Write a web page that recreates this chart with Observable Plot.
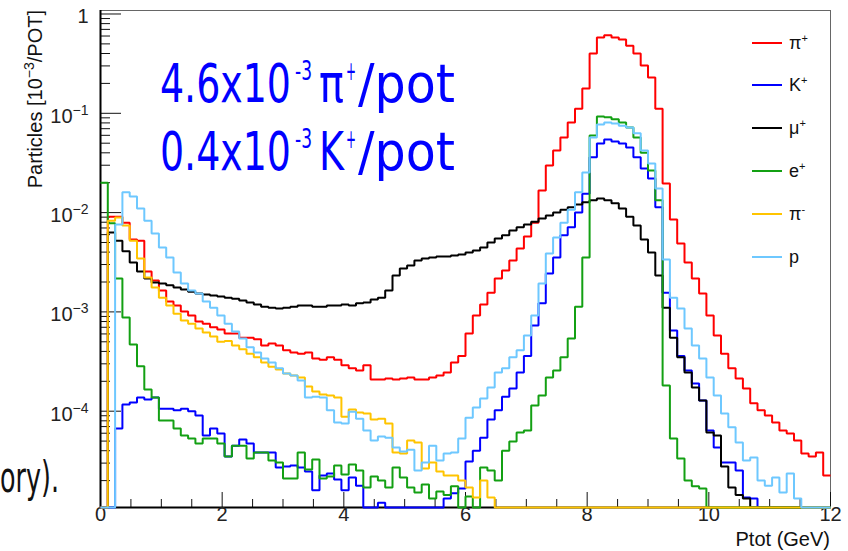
<!DOCTYPE html>
<html><head><meta charset="utf-8">
<script src="https://cdn.jsdelivr.net/npm/d3@7"></script>
<script src="https://cdn.jsdelivr.net/npm/@observablehq/plot@0.6"></script>
<style>
html,body{margin:0;padding:0;background:#fff;}
#chart{position:relative;width:848px;height:551px;overflow:hidden;background:#fff;}
</style></head><body><div id="chart"></div>
<script>
// ---------------- data ----------------
const binWidth = 0.12; // GeV, 100 bins from 0 to 12
const species = ["π+", "K+", "μ+", "e+", "π-", "p"];
const speciesBase = ["π", "K", "μ", "e", "π", "p"];
const speciesCharge = ["+", "+", "+", "+", "-", ""];
const colors = ["#ff0000", "#0000ff", "#000000", "#13a013", "#ffc400", "#6ec8ff"];

const piPlus = [0, 9.1e-3, 9.1e-3, 7.9e-3, 5.35e-3, 5.2e-3, 2.55e-3, 2.07e-3, 1.64e-3, 1.27e-3,
 1.16e-3, 1.01e-3, 9.2e-4, 8.0e-4, 7.6e-4, 7.0e-4, 6.65e-4, 6.05e-4, 6.05e-4, 5.5e-4,
 5.5e-4, 5.3e-4, 4.6e-4, 4.8e-4, 4.6e-4, 4.1e-4, 3.9e-4, 3.8e-4, 3.9e-4, 3.4e-4,
 3.3e-4, 3.5e-4, 3.3e-4, 2.9e-4, 2.7e-4, 2.57e-4, 2.9e-4, 2.08e-4, 2.08e-4, 2.13e-4,
 2.08e-4, 2.13e-4, 2.18e-4, 2.08e-4, 2.08e-4, 2.18e-4, 2.29e-4, 2.45e-4, 3.1e-4, 3.6e-4,
 6.05e-4, 9.2e-4, 1.19e-3, 1.56e-3, 2.17e-3, 2.61e-3, 3.29e-3, 4.35e-3, 5.74e-3, 7.9e-3,
 1.67e-2, 2.98e-2, 4.22e-2, 5.7e-2, 8.1e-2, 0.111, 0.178, 0.40, 0.58, 0.61,
 0.58, 0.553, 0.48, 0.40, 0.303, 0.229, 0.111, 1.96e-2, 8.5e-3, 4.88e-3,
 3.14e-3, 2.17e-3, 1.53e-3, 9.2e-4, 5.8e-4, 3.8e-4, 2.7e-4, 2.13e-4, 1.69e-4, 1.2e-4,
 1.02e-4, 9.05e-5, 7.7e-5, 6.4e-5, 5.95e-5, 5.07e-5, 3.75e-5, 3.5e-5, 3.84e-5, 2.25e-5];

const kPlus = [0, 0, 6.7e-5, 1.17e-4, 1.22e-4, 1.37e-4, 1.31e-4, 1.37e-4, 1.06e-4, 1.06e-4,
 1.02e-4, 1.06e-4, 1.0e-4, 9.05e-5, 5.7e-5, 6.7e-5, 5.95e-5, 3.5e-5, 4.5e-5, 5.2e-5,
 4.73e-5, 3.84e-5, 3.84e-5, 3.84e-5, 2.71e-5, 2.77e-5, 2.84e-5, 2.71e-5, 2.47e-5, 1.6e-5,
 2.25e-5, 2.36e-5, 2.05e-5, 1.6e-5, 2.15e-5, 1.78e-5, 0, 0, 1.2e-5, 0,
 0, 0, 0, 0, 0, 0, 0, 1.32e-5, 1.49e-5, 1.67e-5,
 3.12e-5, 4.0e-5, 5.4e-5, 8.25e-5, 1.02e-4, 1.4e-4, 1.69e-4, 2.45e-4, 3.6e-4, 7.3e-4,
 1.22e-3, 2.44e-3, 3.53e-3, 5.9e-3, 7.1e-3, 1.0e-2, 1.55e-2, 3.6e-2, 4.97e-2, 5.45e-2,
 5.2e-2, 4.97e-2, 4.53e-2, 3.6e-2, 2.78e-2, 2.2e-2, 1.13e-2, 1.56e-3, 6.5e-4, 3.6e-4,
 2.57e-4, 1.9e-4, 1.28e-4, 6.4e-5, 4.3e-5, 3.04e-5, 3.04e-5, 2.53e-5, 1.35e-5, 1.32e-5,
 0, 0, 0, 0, 0, 0, 0, 0, 0, 0];

const muPlus = [0, 6.3e-3, 5.2e-3, 4.07e-3, 3.14e-3, 2.55e-3, 2.17e-3, 1.98e-3, 1.93e-3, 1.85e-3,
 1.76e-3, 1.68e-3, 1.6e-3, 1.53e-3, 1.5e-3, 1.46e-3, 1.43e-3, 1.39e-3, 1.36e-3, 1.3e-3,
 1.24e-3, 1.19e-3, 1.13e-3, 1.1e-3, 1.08e-3, 1.1e-3, 1.13e-3, 1.16e-3, 1.16e-3, 1.13e-3,
 1.13e-3, 1.16e-3, 1.16e-3, 1.19e-3, 1.16e-3, 1.22e-3, 1.24e-3, 1.33e-3, 1.39e-3, 1.64e-3,
 2.33e-3, 2.73e-3, 2.93e-3, 3.29e-3, 3.45e-3, 3.53e-3, 3.61e-3, 3.61e-3, 3.7e-3, 3.78e-3,
 3.97e-3, 4.15e-3, 4.45e-3, 5.0e-3, 5.49e-3, 5.9e-3, 6.6e-3, 7.1e-3, 7.6e-3, 8.1e-3,
 8.7e-3, 9.35e-3, 1.0e-2, 1.07e-2, 1.13e-2, 1.21e-2, 1.27e-2, 1.33e-2, 1.39e-2, 1.33e-2,
 1.24e-2, 1.1e-2, 9.1e-3, 7.4e-3, 5.35e-3, 3.97e-3, 2.33e-3, 1.1e-3, 5.5e-4, 3.5e-4,
 2.45e-4, 1.73e-4, 1.28e-4, 6.1e-5, 5.7e-5, 2.77e-5, 1.7e-5, 1.43e-5, 1.32e-5, 0,
 0, 0, 0, 0, 0, 0, 0, 0, 0, 0];

const ePlus = [2.0e-2, 7.8e-3, 2.17e-3, 8.8e-4, 4.7e-4, 2.83e-4, 1.65e-4, 1.37e-4, 8.06e-5, 8.06e-5,
 6.7e-5, 5.7e-5, 5.3e-5, 4.73e-5, 5.3e-5, 5.3e-5, 4.73e-5, 3.5e-5, 4.5e-5, 4.5e-5,
 3.34e-5, 3.84e-5, 3.84e-5, 3.19e-5, 3.04e-5, 2.1e-5, 2.1e-5, 3.84e-5, 2.59e-5, 3.27e-5,
 2.1e-5, 2.2e-5, 2.84e-5, 2.3e-5, 2.9e-5, 2.53e-5, 1.7e-5, 2.2e-5, 2.0e-5, 1.7e-5,
 2.71e-5, 2.15e-5, 1.7e-5, 1.52e-5, 1.83e-5, 1.32e-5, 1.55e-5, 1.43e-5, 1.75e-5, 0,
 1.38e-5, 0, 2.71e-5, 2.53e-5, 2.0e-5, 4.0e-5, 4.95e-5, 6.1e-5, 6.4e-5, 1.14e-4,
 1.44e-4, 2.18e-4, 2.57e-4, 3.5e-4, 5.4e-4, 1.13e-3, 3.53e-3, 5.97e-2, 9.3e-2, 9.1e-2,
 8.7e-2, 8.1e-2, 7.2e-2, 5.7e-2, 4.0e-2, 2.66e-2, 1.33e-2, 1.81e-4, 5.3e-5, 3.34e-5,
 2.0e-5, 1.75e-5, 1.67e-5, 0, 0, 0, 0, 0, 0, 0,
 0, 0, 0, 0, 0, 0, 0, 0, 0, 0];

const piMinus = [0, 8.3e-3, 8.9e-3, 7.4e-3, 5.2e-3, 3.45e-3, 2.22e-3, 1.76e-3, 1.39e-3, 1.16e-3,
 9.6e-4, 8.2e-4, 7.6e-4, 6.8e-4, 6.2e-4, 5.65e-4, 5.0e-4, 5.1e-4, 4.6e-4, 4.2e-4,
 3.8e-4, 3.5e-4, 3.1e-4, 2.8e-4, 2.63e-4, 2.4e-4, 2.29e-4, 2.18e-4, 1.77e-4, 1.58e-4,
 1.47e-4, 1.44e-4, 1.37e-4, 8.8e-5, 1.04e-4, 9.7e-5, 9.5e-5, 8.25e-5, 8.4e-5, 7.5e-5,
 3.84e-5, 3.75e-5, 5.07e-5, 4.84e-5, 2.65e-5, 3.04e-5, 2.47e-5, 2.25e-5, 2.25e-5, 2.0e-5,
 1.7e-5, 1.35e-5, 2.0e-5, 1.35e-5, 0, 0, 0, 0, 0, 0,
 0, 0, 0, 0, 0, 0, 0, 0, 0, 0,
 0, 0, 0, 0, 0, 0, 0, 0, 0, 0,
 0, 0, 0, 0, 0, 0, 0, 0, 0, 0,
 0, 0, 0, 0, 0, 0, 0, 0, 0, 0];

const proton = [0, 0, 7.6e-3, 1.6e-2, 1.45e-2, 1.1e-2, 8.3e-3, 6.15e-3, 4.45e-3, 3.53e-3,
 2.5e-3, 1.93e-3, 1.64e-3, 1.53e-3, 1.27e-3, 1.1e-3, 9.2e-4, 7.6e-4, 6.35e-4, 5.4e-4,
 4.4e-4, 3.9e-4, 3.4e-4, 3.1e-4, 2.7e-4, 2.4e-4, 2.29e-4, 2.04e-4, 1.37e-4, 1.4e-4,
 1.37e-4, 1.02e-4, 7.7e-5, 7.5e-5, 9.9e-5, 8.4e-5, 6.4e-5, 5.07e-5, 5.56e-5, 5.4e-5,
 4.3e-5, 3.93e-5, 4.1e-5, 2.53e-5, 3.04e-5, 4.5e-5, 3.19e-5, 3.75e-5, 3.84e-5, 5.3e-5,
 8.6e-5, 1.09e-4, 1.34e-4, 1.73e-4, 2.45e-4, 2.7e-4, 3.5e-4, 4.1e-4, 5.8e-4, 9.2e-4,
 1.93e-3, 3.87e-3, 5.6e-3, 7.9e-3, 1.07e-2, 1.6e-2, 2.54e-2, 5.7e-2, 7.7e-2, 8.1e-2,
 7.9e-2, 7.5e-2, 7.2e-2, 6.3e-2, 4.22e-2, 3.12e-2, 1.75e-2, 3.37e-3, 1.39e-3, 1.08e-3,
 6.8e-4, 4.6e-4, 3.4e-4, 2.18e-4, 1.44e-4, 9.5e-5, 6.9e-5, 4.84e-5, 3.19e-5, 3.42e-5,
 2.0e-5, 1.78e-5, 2.15e-5, 1.52e-5, 2.36e-5, 1.32e-5, 0, 0, 0, 0];

const xTicksMajor = [0, 2, 4, 6, 8, 10, 12];
const xTickLabels = ["0", "2", "4", "6", "8", "10", "12"];
const yTicksMajor = [1, 1e-1, 1e-2, 1e-3, 1e-4];
const yTickLabels = ["1", "10^-1", "10^-2", "10^-3", "10^-4"];
const yDomain = [1.072e-5, 1.0845];
const xDomain = [0, 12];

// ---------------- build ----------------
const allSeries = [piPlus, kPlus, muPlus, ePlus, piMinus, proton];
const rows = [];
allSeries.forEach((vals, k) => {
  vals.forEach((v, i) => rows.push({name: species[k], x: i * binWidth, v}));
  rows.push({name: species[k], x: vals.length * binWidth, v: vals[vals.length - 1]});
});
const yMin = yDomain[0];

const xMinor = [];
for (let t = 0.5; t < 12; t += 0.5) if (!xTicksMajor.includes(t)) xMinor.push(t);
const yMinor = [];
for (let e = -5; e <= -1; e++) for (let m = 2; m <= 9; m++) {
  const v = m * Math.pow(10, e);
  if (v > yDomain[0] && v < yDomain[1]) yMinor.push(v);
}

const W = 848, H = 551, mL = 100, mR = 18, mT = 10, mB = 44;
const pw = W - mL - mR, ph = H - mT - mB;

const svg = Plot.plot({
  width: W, height: H,
  marginLeft: mL, marginRight: mR, marginTop: mT, marginBottom: mB,
  style: {fontFamily: "'Liberation Sans', Arial, sans-serif", background: "#fff", overflow: "visible"},
  x: {domain: xDomain, axis: null},
  y: {type: "log", domain: yDomain, axis: null},
  color: {domain: species, range: colors},
  marks: [
    Plot.frame({stroke: "#666", strokeWidth: 1}),
    Plot.tickY(yTicksMajor, {y: d => d, insetRight: pw - 21, stroke: "#111", strokeWidth: 1}),
    Plot.tickY(yMinor, {y: d => d, insetRight: pw - 10, stroke: "#111", strokeWidth: 1}),
    Plot.tickX(xTicksMajor, {x: d => d, insetTop: ph - 15, stroke: "#111", strokeWidth: 1}),
    Plot.tickX(xMinor, {x: d => d, insetTop: ph - 8, stroke: "#111", strokeWidth: 1}),
    Plot.ruleX([xDomain[0]], {stroke: "#000", strokeWidth: 2}),
    Plot.ruleY([yDomain[0]], {stroke: "#000", strokeWidth: 2}),
    Plot.text(xTicksMajor, {x: d => d, text: (d, i) => xTickLabels[i], frameAnchor: "bottom", dy: 13, fontSize: 20, fill: "#222"}),
    Plot.text(yTicksMajor, {y: d => d, text: (d, i) => yTickLabels[i], frameAnchor: "left", dx: -12, dy: 3, textAnchor: "end", fontSize: 20, fill: "#222"}),
    Plot.line(rows, {x: "x", y: d => Math.max(d.v, yMin), z: "name", stroke: "name", curve: "step-after", strokeWidth: 2, strokeLinejoin: "miter", strokeLinecap: "butt"})
  ]
});
document.getElementById("chart").append(svg);

const s = d3.select(svg);
// superscripts in tick labels
s.selectAll("text").each(function () {
  const t = this.textContent;
  if (t.includes("^")) {
    const [base, exp] = t.split("^");
    const el = d3.select(this);
    el.text(base);
    el.append("tspan").attr("dy", -8).attr("font-size", 14).text(exp.replace("-", "−"));
  }
});

const font = "'Liberation Sans', Arial, sans-serif";
// y title
const yt = s.append("text").attr("transform", "translate(42,10) rotate(-90)")
  .attr("text-anchor", "end").attr("font-size", 20).attr("font-family", font).attr("fill", "#111");
yt.append("tspan").text("Particles [10");
yt.append("tspan").attr("dy", -8).attr("font-size", 14).text("−3");
yt.append("tspan").attr("dy", 8).text("/POT]");
// x title
s.append("text").attr("x", 830).attr("y", 546).attr("text-anchor", "end")
  .attr("font-size", 20).attr("font-family", font).attr("fill", "#111").text("Ptot (GeV)");

// legend
const legY = [43, 85, 128, 171, 214, 257];
const lg = s.append("g").attr("text-anchor", "start");
species.forEach((n, i) => {
  lg.append("line").attr("x1", 752).attr("x2", 782).attr("y1", legY[i]).attr("y2", legY[i])
    .attr("stroke", colors[i]).attr("stroke-width", 2);
  const t = lg.append("text").attr("x", 789).attr("y", legY[i] + 6).attr("font-size", 18)
    .attr("text-anchor", "start").attr("font-family", font).attr("fill", "#111");
  t.append("tspan").text(speciesBase[i]);
  if (speciesCharge[i]) t.append("tspan").attr("dy", -7).attr("font-size", 11).text(speciesCharge[i]);
});

// blue annotation: each piece squeezed to its width with a transform
const bigFont = "'DejaVu Sans Condensed', 'Liberation Sans Narrow', 'DejaVu Sans', sans-serif";
function fitText(parent, txt, x, y, size, len, fill) {
  const t = parent.append("text").attr("font-size", size).attr("text-anchor", "start")
    .attr("font-family", bigFont).attr("fill", fill).text(txt);
  const w = t.node().getComputedTextLength() || len;
  t.attr("transform", `translate(${x},${y}) scale(${len / w},1)`);
  return t;
}
const ann = [
  {num: "4.6x10", part: "π", y: 102},
  {num: "0.4x10", part: "K", y: 170}
];
ann.forEach(a => {
  const g = s.append("g");
  fitText(g, a.num, 160, a.y, 53, 131, "#0000ff");
  fitText(g, "-3", 295, a.y - 22, 26, 17, "#0000ff");
  fitText(g, a.part, 319, a.y, 53, 25, "#0000ff");
  fitText(g, "+", 346, a.y - 22, 26, 10, "#0000ff");
  fitText(g, "/pot", 358, a.y, 53, 97, "#0000ff");
});
// slide text fragment
fitText(s, "ory).", 0, 492, 42, 59, "#111");
</script></body></html>
